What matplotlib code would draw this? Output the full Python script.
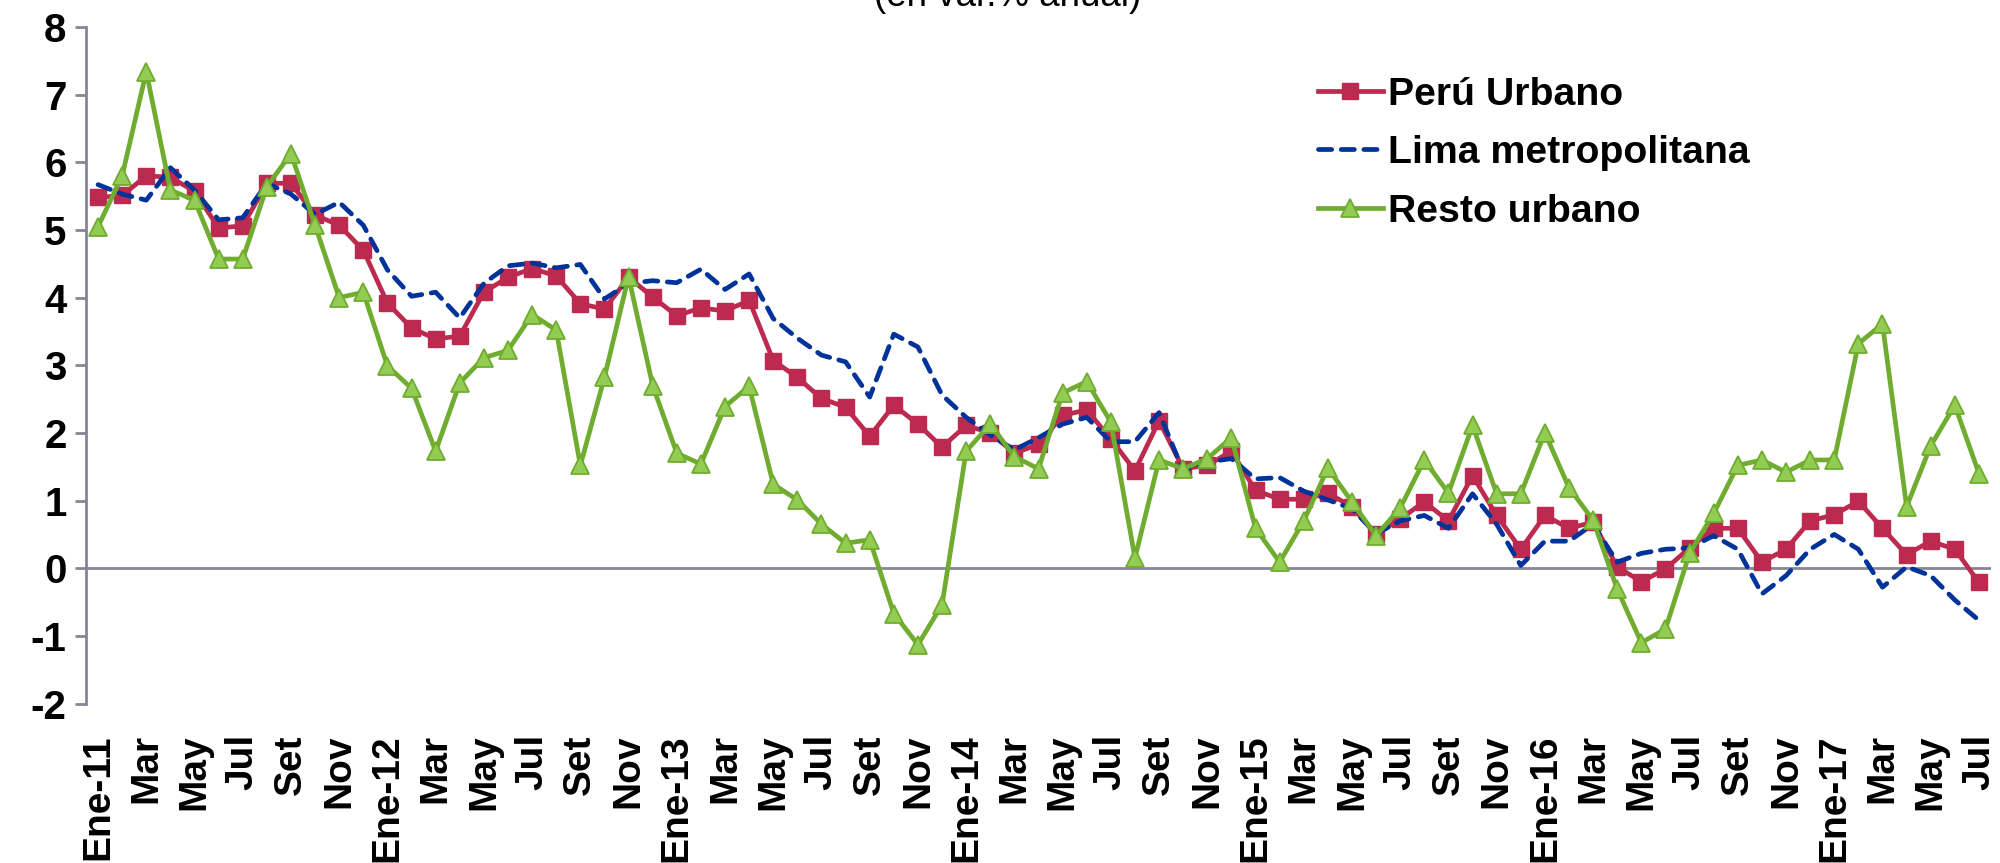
import numpy as np
import matplotlib.pyplot as plt
from matplotlib.ticker import FuncFormatter

# ==============================
# Datos (var.% anual), Ene-11 a Jul-17
# ==============================
peru_urbano = [5.48, 5.51, 5.80, 5.78, 5.57, 5.03, 5.06, 5.69, 5.69, 5.22, 5.07, 4.70,
               3.92, 3.55, 3.39, 3.43, 4.08, 4.30, 4.43, 4.32, 3.91, 3.83, 4.30, 4.01,
               3.73, 3.85, 3.80, 3.96, 3.07, 2.82, 2.51, 2.38, 1.95, 2.41, 2.13, 1.79,
               2.11, 2.00, 1.70, 1.83, 2.26, 2.34, 1.91, 1.44, 2.18, 1.47, 1.52, 1.73,
               1.15, 1.02, 1.02, 1.11, 0.91, 0.50, 0.73, 0.98, 0.70, 1.37, 0.78, 0.28,
               0.78, 0.59, 0.68, 0.02, -0.20, -0.01, 0.30, 0.59, 0.59, 0.09, 0.28, 0.70,
               0.79, 0.99, 0.59, 0.20, 0.40, 0.28, -0.21]

lima_metropolitana = [5.67, 5.53, 5.44, 5.92, 5.59, 5.15, 5.18, 5.69, 5.53, 5.23, 5.41, 5.07,
                      4.41, 4.02, 4.08, 3.70, 4.21, 4.47, 4.51, 4.44, 4.49, 3.98, 4.21, 4.25,
                      4.22, 4.42, 4.12, 4.35, 3.69, 3.40, 3.15, 3.05, 2.53, 3.46, 3.27, 2.56,
                      2.23, 1.97, 1.75, 1.93, 2.13, 2.23, 1.87, 1.87, 2.30, 1.44, 1.57, 1.62,
                      1.32, 1.34, 1.14, 1.01, 0.88, 0.51, 0.70, 0.78, 0.59, 1.10, 0.65, 0.04,
                      0.40, 0.40, 0.65, 0.09, 0.22, 0.28, 0.30, 0.48, 0.28, -0.38, -0.11, 0.28,
                      0.50, 0.28, -0.28, 0.02, -0.11, -0.47, -0.77]

resto_urbano = [5.05, 5.80, 7.34, 5.59, 5.44, 4.57, 4.57, 5.64, 6.13, 5.07, 4.00, 4.08,
                2.99, 2.66, 1.73, 2.74, 3.11, 3.22, 3.75, 3.52, 1.52, 2.82, 4.31, 2.70,
                1.70, 1.54, 2.39, 2.69, 1.24, 1.01, 0.65, 0.37, 0.42, -0.67, -1.13, -0.54,
                1.73, 2.13, 1.65, 1.47, 2.59, 2.76, 2.16, 0.15, 1.60, 1.47, 1.62, 1.93,
                0.59, 0.09, 0.70, 1.48, 0.98, 0.48, 0.89, 1.60, 1.11, 2.11, 1.10, 1.10,
                2.00, 1.19, 0.71, -0.31, -1.10, -0.90, 0.22, 0.81, 1.52, 1.60, 1.42, 1.60,
                1.60, 3.32, 3.61, 0.91, 1.81, 2.41, 1.40]

# etiquetas cada dos meses
etiquetas = ["Ene-11", "Mar", "May", "Jul", "Set", "Nov",
             "Ene-12", "Mar", "May", "Jul", "Set", "Nov",
             "Ene-13", "Mar", "May", "Jul", "Set", "Nov",
             "Ene-14", "Mar", "May", "Jul", "Set", "Nov",
             "Ene-15", "Mar", "May", "Jul", "Set", "Nov",
             "Ene-16", "Mar", "May", "Jul", "Set", "Nov",
             "Ene-17", "Mar", "May", "Jul"]

plt.rcParams['font.family'] = ['Liberation Sans', 'DejaVu Sans']

x = np.arange(len(peru_urbano))
gris = '#868598'

fig = plt.figure(figsize=(20, 8.63), dpi=100)
ax = fig.add_axes([0.043, 0.1848, 0.9525, 0.7839])

ax.plot(x, peru_urbano, color='#BC2B4F', lw=3.4, marker='s', markersize=11.5,
        markerfacecolor='#BC2B4F', markeredgecolor='#BC2B4F', label="Perú Urbano", zorder=3)
ax.plot(x, lima_metropolitana, color='#00339A', lw=3.4, linestyle=(0, (2.8, 2.0)),
        dash_capstyle='round', label="Lima metropolitana", zorder=4)
ax.plot(x, resto_urbano, color='#6FAC2F', lw=3.4, marker='^', markersize=13,
        markerfacecolor='#92CC52', markeredgecolor='#6FAC2F', markeredgewidth=1.3,
        label="Resto urbano", zorder=5)

ax.axhline(0, color=gris, lw=2, zorder=2)

ax.set_xlim(-0.5, len(x) - 0.5)
ax.set_ylim(-2, 8)
ax.set_yticks(np.arange(-2, 9, 1))
ax.yaxis.set_major_formatter(FuncFormatter(lambda v, p: "%d" % v))
ax.set_xticks(x[::2])
ax.set_xticklabels(etiquetas, rotation=90, fontsize=28, fontweight='bold')
ax.tick_params(axis='x', length=0, pad=22)
ax.tick_params(axis='y', direction='out', length=8, width=2, color=gris,
               labelsize=29, pad=6)
for t in ax.get_yticklabels():
    t.set_fontweight('bold')

for s in ['top', 'right', 'bottom']:
    ax.spines[s].set_visible(False)
ax.spines['left'].set_color(gris)
ax.spines['left'].set_linewidth(2)

fig.text(0.504, 1 - 6 / 863, "(en var.% anual)", ha='center', va='baseline', fontsize=26.5)

leg = ax.legend(loc='upper left', bbox_to_anchor=(0.659, 0.911), bbox_transform=fig.transFigure,
                frameon=False, prop={'weight': 'bold', 'size': 28.3}, handlelength=1.65,
                handletextpad=0.12, labelspacing=0.57, borderpad=0, borderaxespad=0)

plt.savefig("out.png", dpi=100)
